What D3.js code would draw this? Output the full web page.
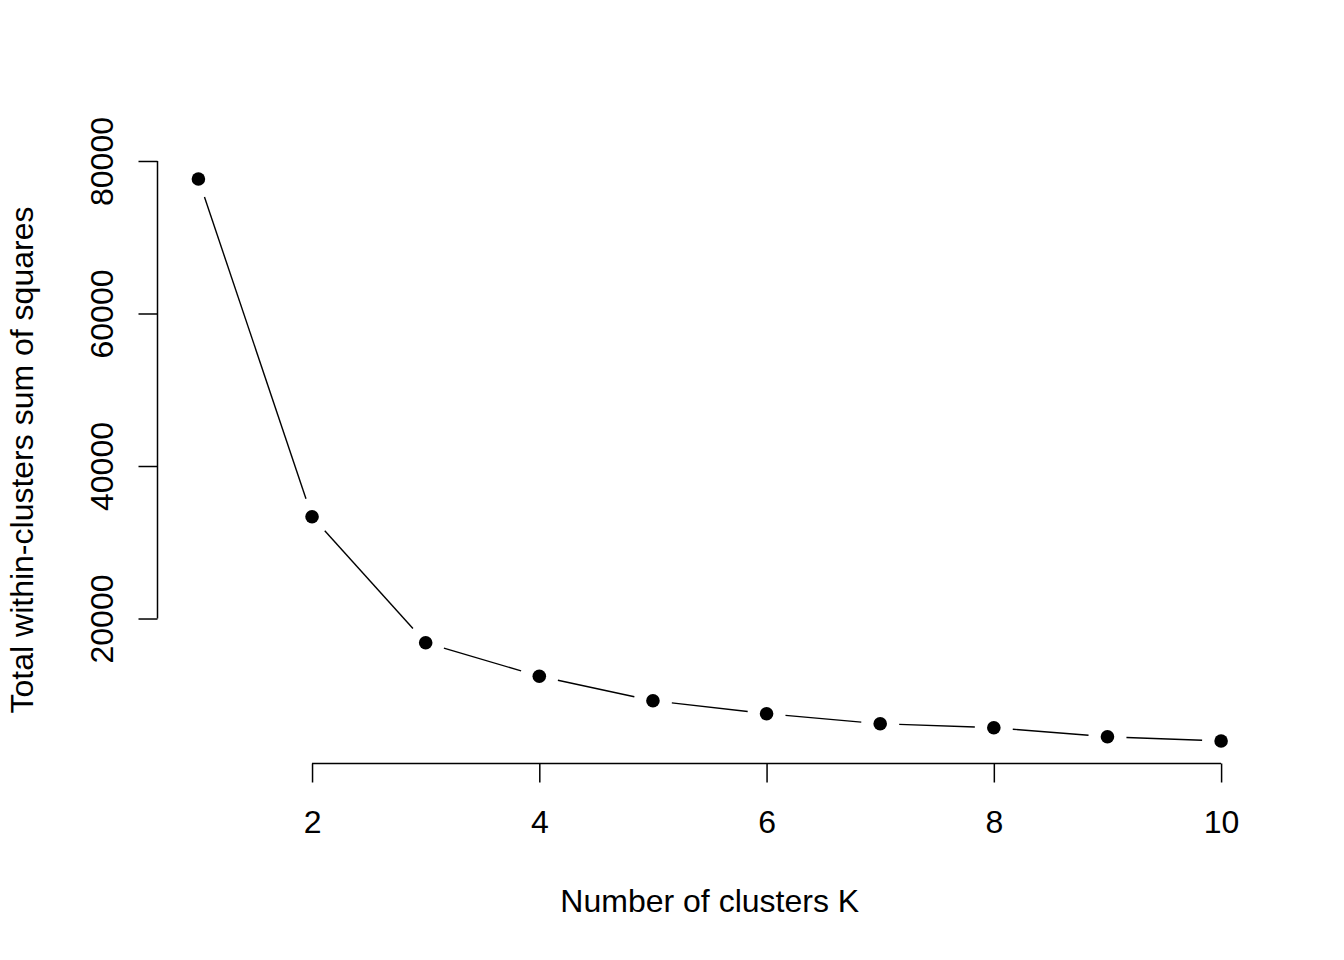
<!DOCTYPE html>
<html>
<head>
<meta charset="utf-8">
<script src="https://cdn.jsdelivr.net/npm/d3@7"></script>
<style>
  html, body { margin: 0; padding: 0; background: #fff; }
  svg { display: block; }
  text { font-family: "Liberation Sans", Arial, sans-serif; fill: #000; }
</style>
</head>
<body>
<svg id="chart" width="1344" height="960"></svg>
<script>
// Data
const clustersK = [1, 2, 3, 4, 5, 6, 7, 8, 9, 10];
const withinSS = [77640, 33350, 16830, 12420, 9220, 7515, 6200, 5680, 4500, 3935];
const xTicks = [2, 4, 6, 8, 10];
const yTicks = [20000, 40000, 60000, 80000];
const xTitle = "Number of clusters K";
const yTitle = "Total within-clusters sum of squares";

const W = 1344, H = 960;
const plot = { left: 157.5, right: 1262, top: 156.5, bottom: 763.5 };

// R-style 4% domain extension
function ext(arr) {
  const [a, b] = d3.extent(arr);
  const d = (b - a) * 0.04;
  return [a - d, b + d];
}

const x = d3.scaleLinear().domain(ext(clustersK)).range([plot.left, plot.right]);
const y = d3.scaleLinear().domain(ext(withinSS)).range([plot.bottom, plot.top]);

const svg = d3.select("#chart");
const pts = clustersK.map((k, i) => ({ px: x(k), py: y(withinSS[i]) }));

// type = "b" line segments with gaps around points
const gap = 19;
const segs = [];
for (let i = 0; i < pts.length - 1; i++) {
  const a = pts[i], b = pts[i + 1];
  const dx = b.px - a.px, dy = b.py - a.py;
  const len = Math.hypot(dx, dy);
  if (len > 2 * gap) {
    const ux = dx / len, uy = dy / len;
    segs.push({ x1: a.px + ux * gap, y1: a.py + uy * gap, x2: b.px - ux * gap, y2: b.py - uy * gap });
  }
}
svg.append("g").selectAll("line").data(segs).join("line")
  .attr("x1", d => d.x1).attr("y1", d => d.y1)
  .attr("x2", d => d.x2).attr("y2", d => d.y2)
  .attr("stroke", "#000").attr("stroke-width", 1.4);

svg.append("g").selectAll("circle").data(pts).join("circle")
  .attr("cx", d => d.px).attr("cy", d => d.py).attr("r", 6.8)
  .attr("fill", "#000");

// X axis (R style: line from first to last tick)
const xAxis = d3.axisBottom(x).tickValues(xTicks).tickSize(19).tickPadding(13)
  .tickFormat(d3.format("d"));
const gx = svg.append("g").attr("transform", `translate(0,${plot.bottom})`).call(xAxis);
gx.select(".domain").attr("d", `M${x(xTicks[0])},0H${x(xTicks[xTicks.length - 1])}`)
  .attr("stroke-width", 1.5);
gx.selectAll(".tick line").attr("stroke-width", 1.5);
gx.selectAll(".tick text").attr("font-size", 32)
  .attr("font-family", "Liberation Sans, Arial, sans-serif")
  .attr("dy", null).attr("y", 833 - plot.bottom);

// Y axis
const yAxis = d3.axisLeft(y).tickValues(yTicks).tickSize(19).tickFormat(d3.format("d"));
const gy = svg.append("g").attr("transform", `translate(${plot.left},0)`).call(yAxis);
gy.select(".domain").attr("d", `M0,${y(yTicks[0])}V${y(yTicks[yTicks.length - 1])}`)
  .attr("stroke-width", 1.5);
gy.selectAll(".tick line").attr("stroke-width", 1.5);
gy.selectAll(".tick text").attr("font-size", 32)
  .attr("font-family", "Liberation Sans, Arial, sans-serif")
  .attr("x", null).attr("dy", null)
  .attr("text-anchor", "middle")
  .attr("transform", `translate(${113 - plot.left},0) rotate(-90)`);

// Titles
svg.append("text").attr("x", (plot.left + plot.right) / 2).attr("y", 912)
  .attr("text-anchor", "middle").attr("font-size", 32).text(xTitle);
svg.append("text")
  .attr("transform", `translate(33,${(plot.top + plot.bottom) / 2}) rotate(-90)`)
  .attr("text-anchor", "middle").attr("font-size", 32).text(yTitle);
</script>
</body>
</html>
